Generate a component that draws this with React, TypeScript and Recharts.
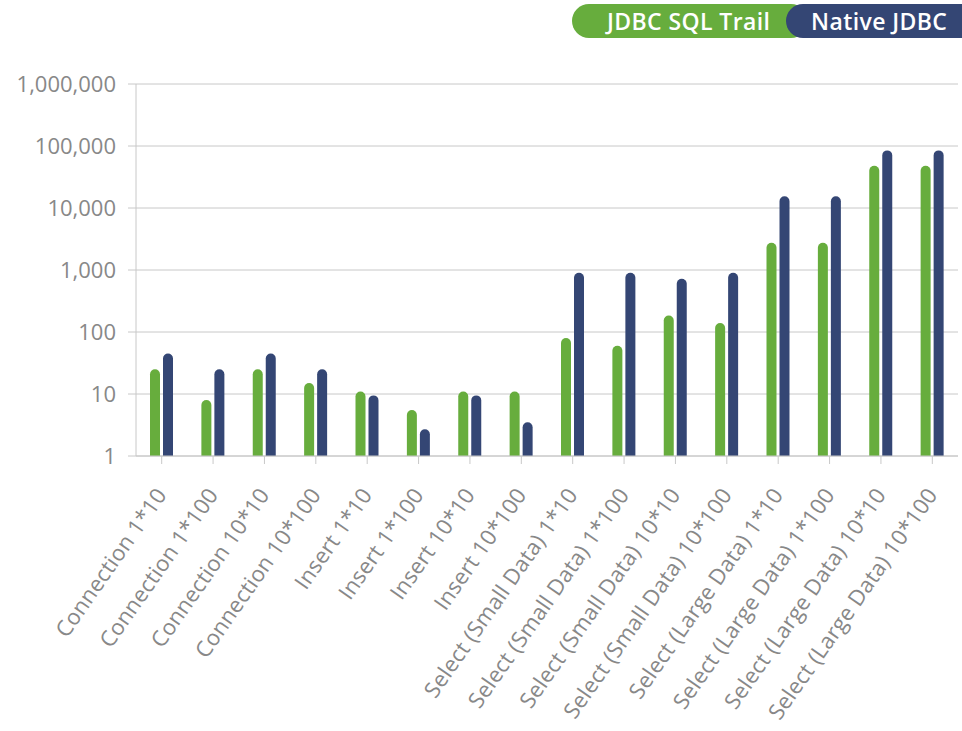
import { BarChart, Bar, XAxis, YAxis, CartesianGrid, Legend } from 'recharts';

const categories = [
  'Connection 1*10',
  'Connection 1*100',
  'Connection 10*10',
  'Connection 10*100',
  'Insert 1*10',
  'Insert 1*100',
  'Insert 10*10',
  'Insert 10*100',
  'Select (Small Data) 1*10',
  'Select (Small Data) 1*100',
  'Select (Small Data) 10*10',
  'Select (Small Data) 10*100',
  'Select (Large Data) 1*10',
  'Select (Large Data) 1*100',
  'Select (Large Data) 10*10',
  'Select (Large Data) 10*100',
];

const sqlTrail = [25, 8, 25, 15, 11, 5.5, 11, 11, 80, 60, 185, 140, 2750, 2750, 48000, 48000];
const nativeJdbc = [45, 25, 45, 25, 9.5, 2.7, 9.5, 3.5, 900, 900, 720, 900, 15500, 15500, 85000, 85000];

const yTicks = [1, 10, 100, 1000, 10000, 100000, 1000000];

const GREEN = '#67ad3d';
const BLUE = '#344674';
const FONT = '"Open Sans", "Noto Sans", sans-serif';

const data = categories.map((name, i) => ({
  name,
  trail: sqlTrail[i],
  native: nativeJdbc[i],
}));

const XTick = ({ x, y, payload }: any) => (
  <g transform={`translate(${x + 6},${y + 31})`}>
    <text
      textAnchor="end"
      fill="#888"
      fontSize={22}
      letterSpacing={0.2}
      fontFamily={FONT}
      transform="rotate(-55)"
    >
      {payload.value}
    </text>
  </g>
);

const pill = {
  position: 'absolute' as const,
  top: 4,
  height: 34,
  color: '#fff',
  fontWeight: 600,
  fontSize: 23,
  letterSpacing: 0.4,
  lineHeight: '34px',
  boxSizing: 'border-box' as const,
  whiteSpace: 'nowrap' as const,
};

const PillLegend = () => (
  <div style={{ position: 'relative', width: 962, height: 42, fontFamily: FONT }}>
    <div style={{ ...pill, left: 572, width: 236, borderRadius: 17, background: GREEN, paddingLeft: 35 }}>
      JDBC SQL Trail
    </div>
    <div style={{ ...pill, left: 786, width: 176, borderRadius: '17px 0 0 17px', background: BLUE, paddingLeft: 25 }}>
      Native JDBC
    </div>
  </div>
);

export default function App() {
  return (
    <div style={{ position: 'absolute', left: 0, top: 0, width: 962, height: 731, background: '#fff' }}>
      <BarChart
        width={962}
        height={731}
        data={data}
        margin={{ top: 84, right: 4, left: 0, bottom: 0 }}
        barSize={10}
        barGap={3}
      >
        <CartesianGrid vertical={false} stroke="#c8c8c8" />
        <XAxis
          dataKey="name"
          height={275}
          interval={0}
          tick={<XTick />}
          tickSize={8}
          tickMargin={0}
          tickLine={{ stroke: '#c8c8c8' }}
          axisLine={{ stroke: '#c8c8c8' }}
        />
        <YAxis
          scale="log"
          domain={[1, 1000000]}
          ticks={yTicks}
          allowDataOverflow
          width={136}
          tickSize={8}
          tickMargin={12}
          tickFormatter={(v: number) => v.toLocaleString('en-US')}
          tick={{ fill: '#888', fontSize: 22, fontFamily: FONT }}
          tickLine={{ stroke: '#c8c8c8' }}
          axisLine={{ stroke: '#c8c8c8' }}
        />
        <Legend
          layout="vertical"
          align="center"
          verticalAlign="middle"
          wrapperStyle={{ top: 0, left: 0, width: 962 }}
          content={<PillLegend />}
        />
        <Bar dataKey="trail" name="JDBC SQL Trail" fill={GREEN} radius={[5, 5, 0, 0]} isAnimationActive={false} />
        <Bar dataKey="native" name="Native JDBC" fill={BLUE} radius={[5, 5, 0, 0]} isAnimationActive={false} />
      </BarChart>
    </div>
  );
}
